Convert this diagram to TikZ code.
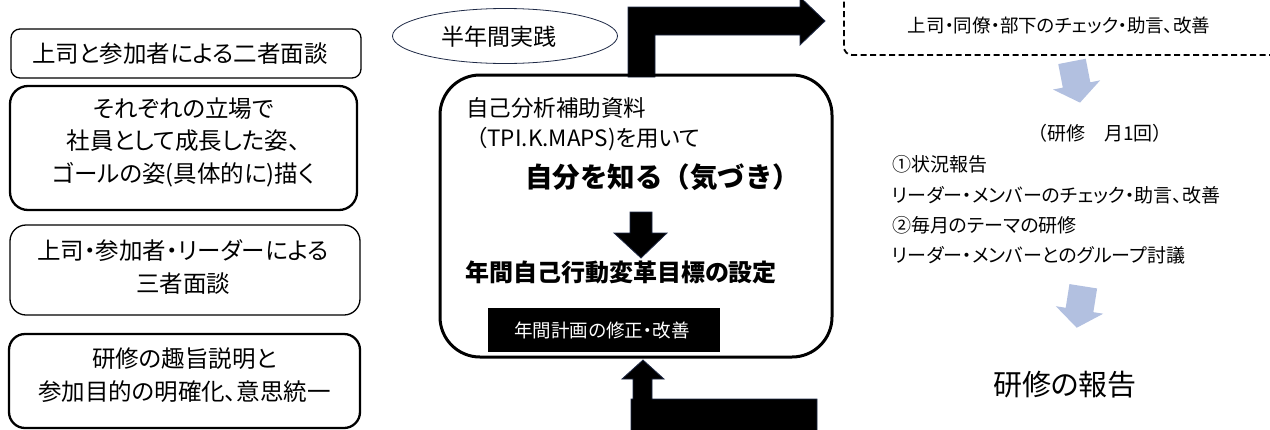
\documentclass[tikz,border=0pt]{standalone}
\usepackage{fontspec}
\setmainfont{Noto Sans CJK JP}[RawFeature=+palt]
\newfontfamily\fullw{Noto Sans CJK JP}
\usetikzlibrary{shapes.geometric}
\definecolor{navy}{RGB}{31,42,70}
\definecolor{pale}{RGB}{178,192,224}
\begin{document}
\begin{tikzpicture}[x=1pt,y=-1pt,
  thinbox/.style={draw,line width=1.3pt,rounded corners=9pt,inner sep=0pt},
  thickbox/.style={draw,line width=2.3pt,rounded corners=18pt,inner sep=0pt},
  lt/.style={font=\fontsize{23.5}{32.5}\selectfont,align=center,inner sep=0pt},
  mt/.style={font=\fontsize{22.5}{22.5}\selectfont,anchor=west,inner sep=0pt},
  rt/.style={font=\fontsize{19}{19}\selectfont,anchor=west,inner sep=0pt},
  blk/.style={fill=black,draw=navy,line width=0.8pt},
  palearrow/.style={fill=pale,draw=none}]
\useasboundingbox (0,0) rectangle (1270,429);

% left column
\node[thinbox,minimum width=350pt,minimum height=49pt] (b1) at (186,53.5) {};
\node[lt] (t1) at (180,53.5) {上司と参加者による二者面談};
\node[thickbox,minimum width=347pt,minimum height=124pt] (b2) at (183.5,148) {};
\node[lt] (t2) at (183.5,142) {それぞれの立場で\\社員として成長した姿、\\ゴールの姿(具体的に)描く};
\node[thinbox,rounded corners=16pt,minimum width=350pt,minimum height=90pt] (b3) at (185,270) {};
\node[lt] (t3) at (183,267) {上司・参加者・リーダーによる\\三者面談};
\node[thickbox,rounded corners=16pt,minimum width=351pt,minimum height=94pt] (b4) at (184.5,381) {};
\node[lt] (t4) at (184.5,375) {研修の趣旨説明と\\参加目的の明確化、意思統一};

% ellipse
\node[ellipse,draw=navy,line width=0.8pt,minimum width=225pt,minimum height=55pt,inner sep=0pt] (e) at (505,36) {};
\node[font=\fontsize{23}{23}\selectfont,inner sep=0pt] (et) at (499,37) {半年間実践};

% top bent arrow
\draw[blk] (628,77) -- (628,7) -- (800,7) -- (800,-3) -- (825,21) -- (800,45) -- (800,35) -- (655,35) -- (655,77) -- cycle;

% main box
\node[draw,line width=3pt,rounded corners=40pt,minimum width=392pt,minimum height=282pt,inner sep=0pt] (m) at (636,216) {};
\node[mt] (m1) at (466,108) {自己分析補助資料};
\node[mt] (m2) at (476,139) {（TPI.K.MAPS)を用いて};
\node[mt,font=\fontsize{27.5}{27.5}\fullw\bfseries] (m3) at (525,177) {自分を知る（気づき）};
\draw[blk] (630,212) -- (652,212) -- (652,233) -- (667,233) -- (641,258) -- (614,233) -- (630,233) -- cycle;
\node[mt,font=\fontsize{24}{24}\selectfont\bfseries] (m4) at (465,272) {年間自己行動変革目標の設定};
\node[fill=black,minimum width=232pt,minimum height=44pt,inner sep=0pt] (m5) at (604,330) {};
\node[text=white,font=\fontsize{18.5}{18.5}\selectfont,inner sep=0pt] (m5t) at (602,330) {年間計画の修正・改善};

% bottom arrow
\draw[blk] (631,440) -- (631,399) -- (633,399) -- (633,379) -- (622,379) -- (643,360) -- (664,379) -- (652,379) -- (652,399) -- (817,399) -- (817,440) -- cycle;

% right column
\node[draw,dashed,dash pattern=on 6pt off 3.5pt,line width=1.8pt,rounded corners=8pt,
      minimum width=446pt,minimum height=75pt,inner sep=0pt] (d) at (1067,17.5) {};
\node[font=\fontsize{18.5}{18.5}\selectfont,inner sep=0pt] (dt) at (1059,25) {上司・同僚・部下のチェック・助言、改善};

\begin{scope}[shift={(1076,82)},rotate=11]
  \fill[palearrow] (-14,-21) -- (14,-21) -- (14,3) -- (24,3) -- (0,21) -- (-24,3) -- (-14,3) -- cycle;
\end{scope}

\node[font=\fontsize{19}{19}\selectfont,inner sep=0pt] (r0) at (1100,133) {（研修　月1回）};
\node[rt] (r1) at (892,164) {①状況報告};
\node[rt] (r2) at (892,195) {リーダー・メンバーのチェック・助言、改善};
\node[rt] (r3) at (892,225) {②毎月のテーマの研修};
\node[rt] (r4) at (892,255) {リーダー・メンバーとのグループ討議};

\begin{scope}[shift={(1080,307)},rotate=-9]
  \fill[palearrow] (-14,-21) -- (14,-21) -- (14,3) -- (24,3) -- (0,21) -- (-24,3) -- (-14,3) -- cycle;
\end{scope}

\node[font=\fontsize{29}{29}\selectfont,inner sep=0pt] (rep) at (1065,385) {研修の報告};
\end{tikzpicture}
\end{document}
